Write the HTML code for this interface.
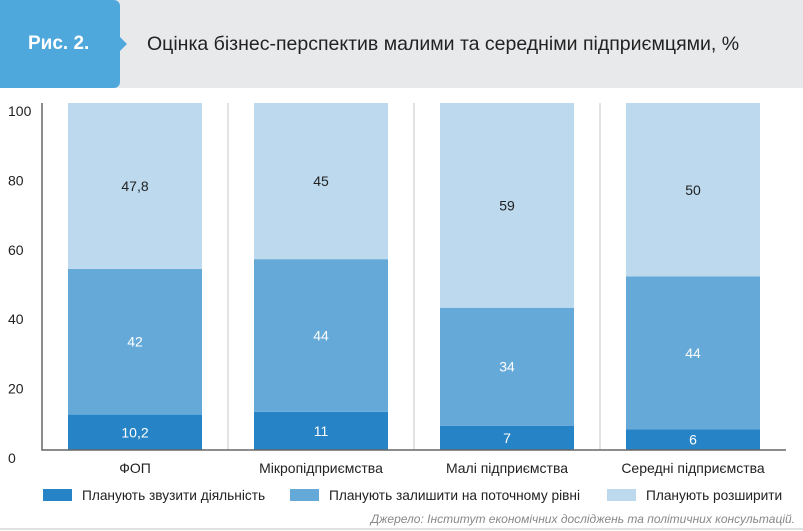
<!DOCTYPE html>
<html><head><meta charset="utf-8"><style>
body{margin:0;width:803px;height:531px;background:#fff;font-family:"Liberation Sans",sans-serif;overflow:hidden;position:relative}
.hdr{position:absolute;left:0;top:0;width:803px;height:88px;background:#e8e9eb}
.tab{position:absolute;left:0;top:0;width:120px;height:88px;background:#4fa8dc;border-radius:0 6px 6px 0}
.tab:after{content:"";position:absolute;right:-7px;top:37px;border-left:7px solid #4fa8dc;border-top:7px solid transparent;border-bottom:7px solid transparent}
.tab span{position:absolute;left:28px;top:33px;color:#fff;font-weight:bold;font-size:19px}
.title{position:absolute;left:147px;top:33px;font-size:19.5px;color:#222}
.src{position:absolute;right:8px;top:512px;font-style:italic;font-size:12px;color:#888}
</style></head><body>
<div class="hdr"></div>
<div class="tab"><span>Рис. 2.</span></div>
<div class="title">Оцінка бізнес-перспектив малими та середніми підприємцями, %</div>
<svg id="c" width="803" height="531" style="position:absolute;left:0;top:0"></svg>
<div class="src">Джерело: Інститут економічних досліджень та політичних консультацій.</div>
<script>
const categories=["ФОП","Мікропідприємства","Малі підприємства","Середні підприємства"];
const shrink=[10.2,11,7,6];
const keep=[42,44,34,44];
const expand=[47.8,45,59,50];
const shrinkLabels=["10,2","11","7","6"];
const keepLabels=["42","44","34","44"];
const expandLabels=["47,8","45","59","50"];
const yTicks=[0,20,40,60,80,100];
const seriesNames=["Планують звузити діяльність","Планують залишити на поточному рівні","Планують розширити"];
const colors=["#2683c6","#65a9d8","#bcd9ed"];
const NS="http://www.w3.org/2000/svg";
const svg=document.getElementById('c');
const x0=42,x1=786,y0=450,y1=103;
const gw=(x1-x0)/categories.length;
const y=v=>y0-(v/100)*(y0-y1);
function el(t,a){const e=document.createElementNS(NS,t);for(const k in a)e.setAttribute(k,a[k]);svg.appendChild(e);return e;}
for(let i=1;i<categories.length;i++){const s=el('line',{x1:x0+gw*i,x2:x0+gw*i,y1:y1,y2:y0,stroke:'#e3e3e3','stroke-width':2});

}
yTicks.forEach(t=>{const tx=el('text',{x:8,y:y(t)+13,'font-size':14,fill:'#222'});tx.textContent=t;

});
const series=[shrink,keep,expand],labs=[shrinkLabels,keepLabels,expandLabels];
categories.forEach((c,i)=>{
 const cx=x0+gw*i+gw/2,bw=134;let acc=0;
 series.forEach((s,j)=>{
  const v=s[i];const r=el('rect',{x:cx-bw/2,y:y(acc+v),width:bw,height:y(acc)-y(acc+v),fill:colors[j]});
  
  
  const t=el('text',{x:cx,y:(y(acc)+y(acc+v))/2+5,'text-anchor':'middle','font-size':14,fill:j==2?'#222':'#fff'});
  t.textContent=labs[j][i];
  
  
  acc+=v;});
 const ct=el('text',{x:cx,y:473,'text-anchor':'middle','font-size':14,fill:'#222'});ct.textContent=c;
 
 
});
const ax=el('path',{d:`M${x0} ${y1}V${y0}H${x1}`,fill:'none',stroke:'#666','stroke-width':1.5});


const lx=[43,290,607];
seriesNames.forEach((n,j)=>{
 const r=el('rect',{x:lx[j],y:489,width:29,height:12,fill:colors[j]});
 
 
 const t=el('text',{x:lx[j]+39,y:500,'font-size':13.7,fill:'#222'});t.textContent=n;
 
 
});
const bl=el('line',{x1:0,x2:803,y1:529,y2:529,stroke:'#e0e0e0','stroke-width':2});


</script>
</body></html>
